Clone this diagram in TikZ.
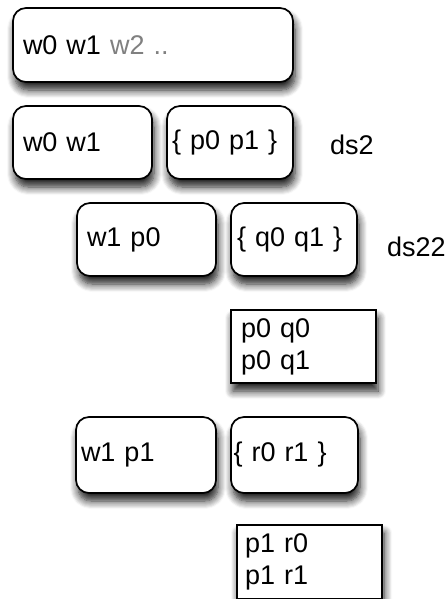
\documentclass[tikz,border=0pt]{standalone}
\usepackage{fontspec}
\setmainfont{Liberation Sans}
\usetikzlibrary{shadows.blur}
\tikzset{
  boxbase/.style={draw=black, line width=1.7pt, fill=white, anchor=north west,
    align=left, inner ysep=0pt, outer sep=0pt,
    font=\fontsize{27}{32}\selectfont,
    blur shadow={shadow xshift=2pt, shadow yshift=-8pt, shadow blur radius=8pt, shadow blur steps=8, shadow opacity=90}},
  rbox/.style={boxbase, rounded corners=13pt},
  sbox/.style={boxbase},
  lbl/.style={anchor=west, inner sep=0pt, font=\fontsize{27}{32}\selectfont},
}
\begin{document}
\begin{tikzpicture}[x=1pt,y=-1pt]
\useasboundingbox (0,0) rectangle (445,599);
\node[rbox, inner xsep=10pt, text width=260pt, minimum height=74pt] (b1) at (13,8) {w0 w1 \textcolor{black!50}{w2 ..}};
\node[rbox, inner xsep=10pt, text width=119pt, minimum height=73pt] (b2) at (13,106) {w0 w1};
\node[rbox, inner xsep=5pt, text width=116pt, minimum height=73pt] (b3) at (167,106) {\{ p0 p1 \}};
\node[lbl] (ds2) at (330,145) {ds2};
\node[rbox, inner xsep=10pt, text width=119pt, minimum height=73pt] (b4) at (77,203) {w1 p0};
\node[rbox, inner xsep=6pt, text width=114pt, minimum height=73pt] (b5) at (231,203) {\{ q0 q1 \}};
\node[lbl] (ds22) at (387,247) {ds22};
\node[sbox, inner xsep=10pt, text width=125pt, minimum height=73pt] (b6) at (231,310) {p0 q0\\p0 q1};
\node[rbox, inner xsep=5pt, text width=130pt, minimum height=76pt] (b7) at (76,417) {w1 p1};
\node[rbox, inner xsep=2.5pt, text width=122pt, minimum height=76pt] (b8) at (231,417) {\{ r0 r1 \}};
\node[sbox, inner xsep=8pt, text width=129pt, minimum height=74pt] (b9) at (237,525) {p1 r0\\p1 r1};
\end{tikzpicture}
\end{document}
